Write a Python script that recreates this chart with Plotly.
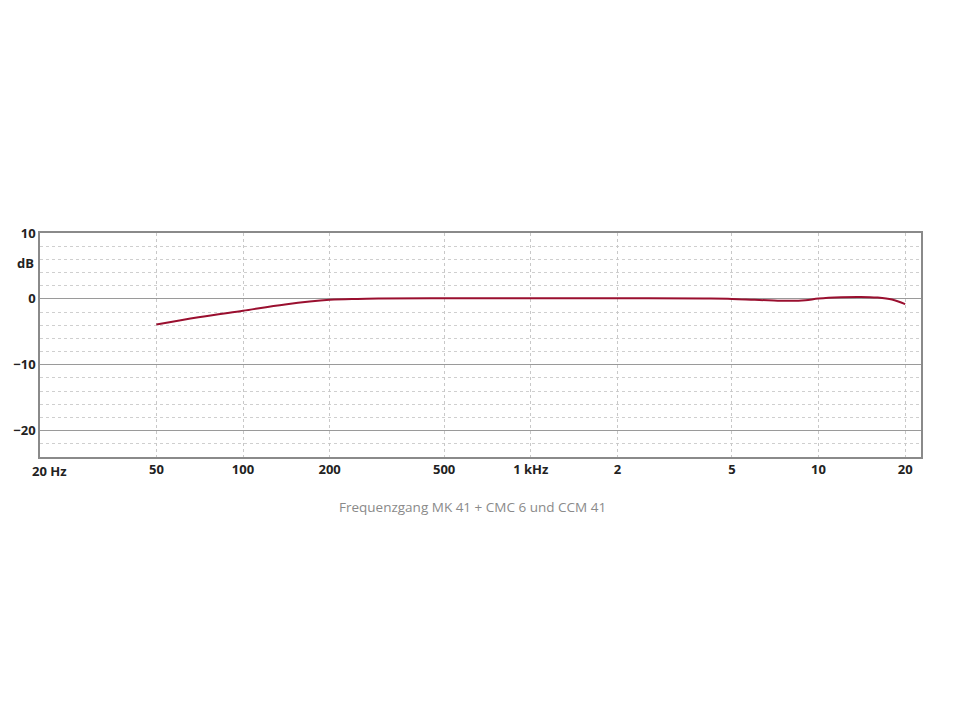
import numpy as np
import plotly.graph_objects as go

freq_hz = [50, 70, 100, 140, 200, 250, 300, 500, 1000, 2000, 4000, 5000,
           6000, 7000, 8000, 9000, 10000, 12000, 14000, 16000, 18000, 20000]
level_db = [-3.9, -2.8, -1.8, -0.85, -0.15, 0.0, 0.05, 0.1, 0.1, 0.1, 0.05, 0.0,
            -0.15, -0.25, -0.3, -0.2, 0.05, 0.25, 0.3, 0.2, -0.1, -0.8]

x_tickvals = [50, 100, 200, 500, 1000, 2000, 5000, 10000, 20000]
x_ticktext = ["50", "100", "200", "500", "1 kHz", "2", "5", "10", "20"]
y_tickvals = [10, 0, -10, -20]

fig = go.Figure()
fig.add_trace(go.Scatter(
    x=freq_hz, y=level_db, mode="lines",
    line=dict(color="#9a0f2f", width=2, shape="spline"),
    showlegend=False, hoverinfo="skip"))

fig.update_xaxes(
    type="log",
    range=[np.log10(19.7), np.log10(22700)],
    tickvals=x_tickvals, ticktext=x_ticktext,
    showgrid=True, gridcolor="#c8c8c8", griddash="dot", gridwidth=1,
    showline=True, linecolor="#8a8a8a", linewidth=1.5, mirror=True,
    ticks="", zeroline=False, automargin=False,
    tickfont=dict(family="Open Sans", size=13, color="#222", weight="bold"))

fig.update_yaxes(
    range=[-24, 10],
    tickvals=y_tickvals,
    showgrid=True, gridcolor="#9a9a9a", gridwidth=1,
    minor=dict(tick0=0, dtick=2, showgrid=True, gridcolor="#cfcfcf", griddash="dot", gridwidth=1),
    showline=True, linecolor="#8a8a8a", linewidth=1.5, mirror=True,
    ticks="", zeroline=False, automargin=False,
    tickfont=dict(family="Open Sans", size=13, color="#222", weight="bold"))

fig.add_annotation(x=0, y=0, xref="paper", yref="paper", text="<b>20 Hz</b>",
                   xanchor="left", yanchor="top", xshift=-10, yshift=-3, showarrow=False,
                   font=dict(family="Open Sans", size=13, color="#222"))
fig.add_annotation(x=0, y=5.5, xref="paper", yref="y", text="<b>dB</b>",
                   xanchor="right", yanchor="middle", xshift=-4, showarrow=False,
                   font=dict(family="Open Sans", size=13, color="#222"))
fig.add_annotation(x=0.5, y=0, xref="paper", yref="paper",
                   text="Frequenzgang MK 41 + CMC 6 und CCM 41",
                   xanchor="center", yanchor="middle", xshift=-8, yshift=-50, showarrow=False,
                   font=dict(family="Open Sans", size=13.5, color="#8a8a8a"))

fig.update_layout(
    width=960, height=720,
    margin=dict(l=32, r=47, t=225, b=271),
    plot_bgcolor="white", paper_bgcolor="white")

fig.write_html("out.html")
